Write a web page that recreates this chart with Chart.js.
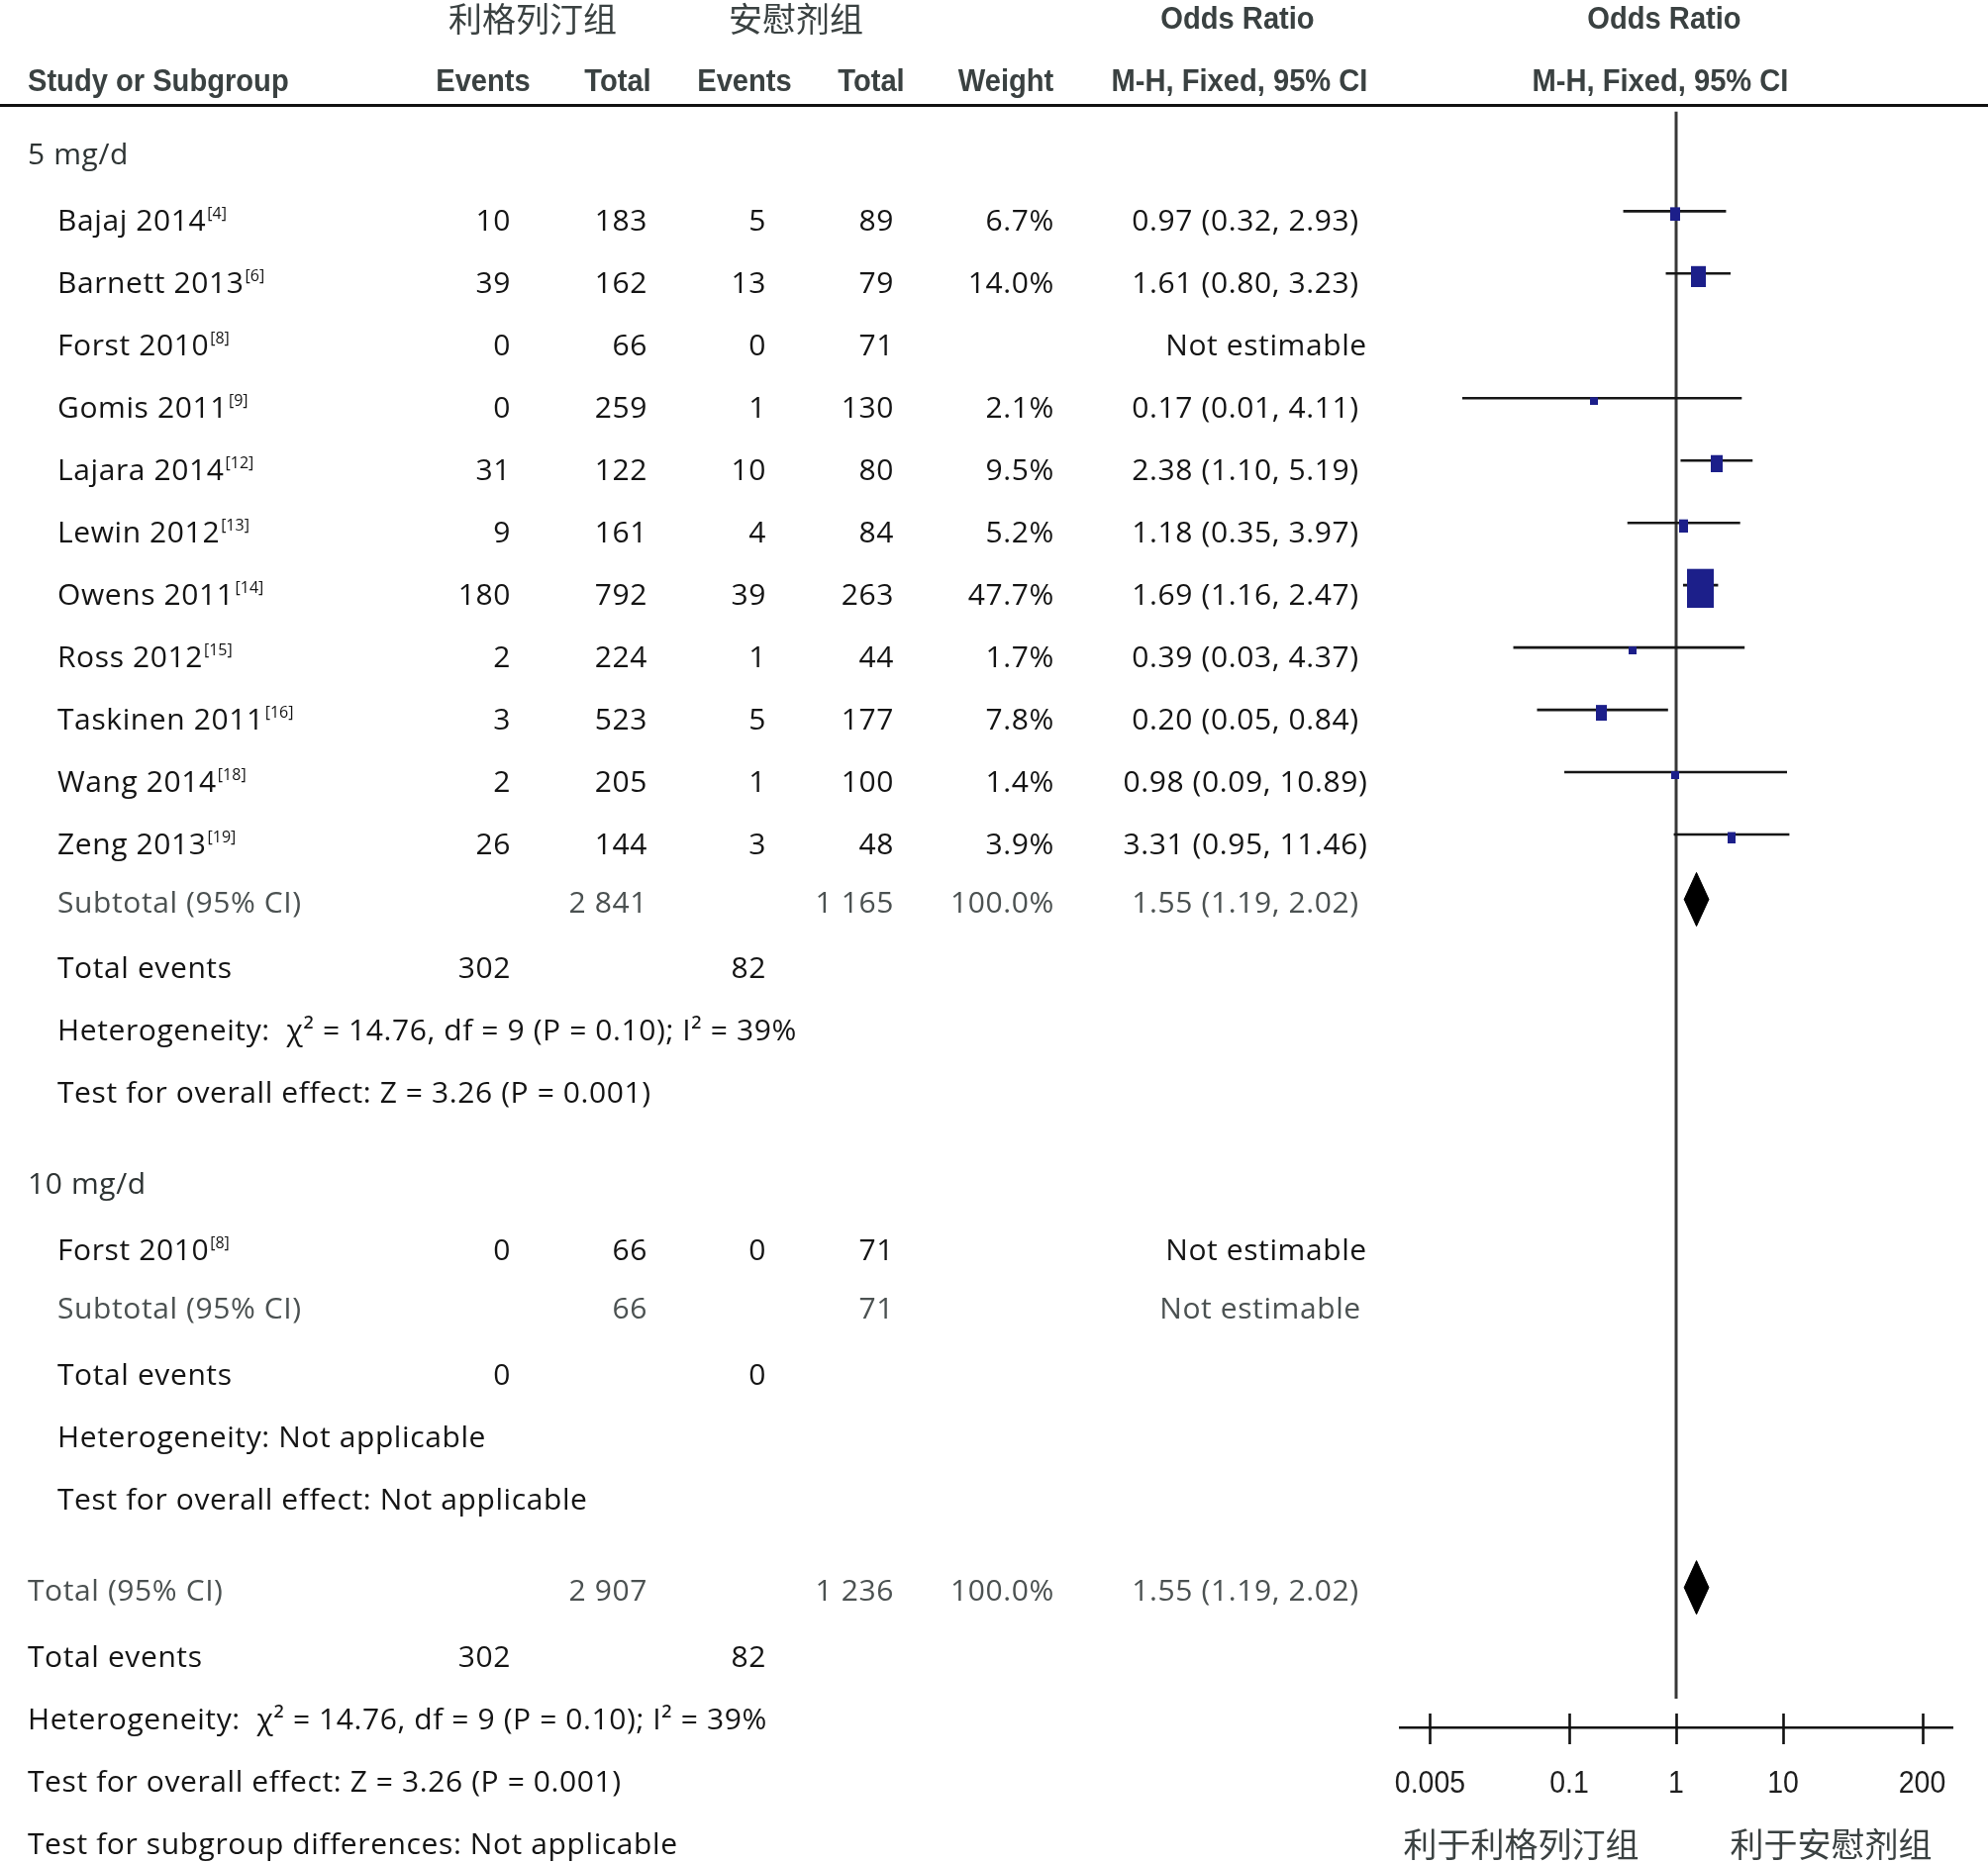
<!DOCTYPE html>
<html><head><meta charset="utf-8">
<script src="https://cdn.jsdelivr.net/npm/chart.js@4.4.1/dist/chart.umd.min.js"></script>
<style>html,body{margin:0;padding:0;background:#fff;overflow:hidden}canvas{display:block}</style>
</head><body>
<canvas id="c" width="2008" height="1882"></canvas>
<script>
// ---------------- DATA ----------------
const groupLabels = ['利格列汀组', '安慰剂组'];
const subgroupNames = ['5 mg/d', '10 mg/d'];

const studies5 = ['Bajaj 2014','Barnett 2013','Forst 2010','Gomis 2011','Lajara 2014','Lewin 2012','Owens 2011','Ross 2012','Taskinen 2011','Wang 2014','Zeng 2013'];
const refs5 = ['[4]','[6]','[8]','[9]','[12]','[13]','[14]','[15]','[16]','[18]','[19]'];
const linaEvents5 = [10, 39, 0, 0, 31, 9, 180, 2, 3, 2, 26];
const linaTotal5  = [183, 162, 66, 259, 122, 161, 792, 224, 523, 205, 144];
const placEvents5 = [5, 13, 0, 1, 10, 4, 39, 1, 5, 1, 3];
const placTotal5  = [89, 79, 71, 130, 80, 84, 263, 44, 177, 100, 48];
const weight5     = [6.7, 14.0, null, 2.1, 9.5, 5.2, 47.7, 1.7, 7.8, 1.4, 3.9];
const or5         = [0.97, 1.61, null, 0.17, 2.38, 1.18, 1.69, 0.39, 0.20, 0.98, 3.31];
const orLow5      = [0.32, 0.80, null, 0.01, 1.10, 0.35, 1.16, 0.03, 0.05, 0.09, 0.95];
const orHigh5     = [2.93, 3.23, null, 4.11, 5.19, 3.97, 2.47, 4.37, 0.84, 10.89, 11.46];

const subTotals5   = [2841, 1165];
const subWeight5   = 100.0;
const subOR5       = [1.55, 1.19, 2.02];
const totalEvents5 = [302, 82];
const notes5 = ['Heterogeneity:  χ² = 14.76, df = 9 (P = 0.10); I² = 39%', 'Test for overall effect: Z = 3.26 (P = 0.001)'];

const studies10 = ['Forst 2010'];
const refs10 = ['[8]'];
const linaEvents10 = [0];
const linaTotal10  = [66];
const placEvents10 = [0];
const placTotal10  = [71];
const subTotals10   = [66, 71];
const totalEvents10 = [0, 0];
const notes10 = ['Heterogeneity: Not applicable', 'Test for overall effect: Not applicable'];

const overallTotals = [2907, 1236];
const overallWeight = 100.0;
const overallOR     = [1.55, 1.19, 2.02];
const overallEvents = [302, 82];
const overallNotes = ['Heterogeneity:  χ² = 14.76, df = 9 (P = 0.10); I² = 39%', 'Test for overall effect: Z = 3.26 (P = 0.001)', 'Test for subgroup differences: Not applicable'];

const xTickValues = [0.005, 0.1, 1, 10, 200];
const xTickLabels = ['0.005', '0.1', '1', '10', '200'];
const favourLabels = ['利于利格列汀组', '利于安慰剂组'];

// ---------------- LAYOUT ----------------
const ROW0 = 142, ROWH = 63.15;         // pixel of row unit 0, pixels per row unit
const AXIS_Y = 1745, CH = 1882, CW = 2008;
const PLOT_L = 1414, PLOT_R = 1972;
const COL = { section: 28, name: 58, e1: 516, t1: 654, e2: 774, t2: 903, w: 1065, orC: 1258, neC: 1279 };
const FONT_BODY = "30px 'Open Sans', 'Noto Sans', sans-serif";
const FONT_SUP = "16px 'Open Sans', 'Noto Sans', sans-serif";
const FONT_HEAD = "bold 32px 'Liberation Sans', Arial, sans-serif";
const FONT_TICK = "32px 'Liberation Sans', Arial, sans-serif";
const FONT_CJK = "34px 'Noto Sans CJK SC', sans-serif";
const C_TEXT = '#141414', C_GRAY = '#4b5151', C_HEAD = '#3a4141';

const fmtN = n => n >= 1000 ? String(Math.floor(n/1000)) + ' ' + String(n % 1000).padStart(3, '0') : String(n);
const fmtOR = (a, b, c) => `${a.toFixed(2)} (${b.toFixed(2)}, ${c.toFixed(2)})`;

// build row list (u = row unit position)
const rows = [];
let cu = 0;
function addRow(gap, r) { cu += gap; r.u = cu; rows.push(r); }
addRow(0, { type: 'section', text: subgroupNames[0] });
studies5.forEach((s, i) => addRow(i === 0 ? 1.06 : 1, {
  type: 'study', name: s, ref: refs5[i], e1: linaEvents5[i], t1: linaTotal5[i], e2: placEvents5[i], t2: placTotal5[i],
  w: weight5[i], or: or5[i], lo: orLow5[i], hi: orHigh5[i] }));
addRow(0.94, { type: 'sub', label: 'Subtotal (95% CI)', left: COL.name, t1: subTotals5[0], t2: subTotals5[1], w: subWeight5, or: subOR5[0], lo: subOR5[1], hi: subOR5[2] });
addRow(1.06, { type: 'events', left: COL.name, e1: totalEvents5[0], e2: totalEvents5[1] });
notes5.forEach(n => addRow(1, { type: 'note', left: COL.name, text: n }));
addRow(1.46, { type: 'section', text: subgroupNames[1] });
studies10.forEach((s, i) => addRow(i === 0 ? 1.06 : 1, {
  type: 'study', name: s, ref: refs10[i], e1: linaEvents10[i], t1: linaTotal10[i], e2: placEvents10[i], t2: placTotal10[i],
  w: null, or: null, lo: null, hi: null }));
addRow(0.94, { type: 'sub', label: 'Subtotal (95% CI)', left: COL.name, t1: subTotals10[0], t2: subTotals10[1], w: null, or: null });
addRow(1.06, { type: 'events', left: COL.name, e1: totalEvents10[0], e2: totalEvents10[1] });
notes10.forEach(n => addRow(1, { type: 'note', left: COL.name, text: n }));
addRow(1.46, { type: 'sub', label: 'Total (95% CI)', left: COL.section, t1: overallTotals[0], t2: overallTotals[1], w: overallWeight, or: overallOR[0], lo: overallOR[1], hi: overallOR[2] });
addRow(1.06, { type: 'events', left: COL.section, e1: overallEvents[0], e2: overallEvents[1] });
overallNotes.forEach(n => addRow(1, { type: 'note', left: COL.section, text: n }));

// ---------------- MARKS ----------------
function makeRect(wt) {
  const h = Math.max(8, 5.6 * Math.sqrt(wt)), w = Math.max(8, 0.71 * h), off = 3;
  const c = document.createElement('canvas');
  c.width = Math.round(w); c.height = Math.round(h) + 2 * off;
  const g = c.getContext('2d');
  g.fillStyle = '#1c1f8a';
  g.fillRect(0, 2 * off, c.width, Math.round(h));
  return c;
}
const datasets = [];
const studyRows = rows.filter(r => r.type === 'study' && r.or != null);
datasets.push({
  type: 'scatter', label: 'OR', order: 0,
  data: studyRows.map(r => ({ x: r.or, y: r.u })),
  pointStyle: studyRows.map(r => makeRect(r.w)),
  pointRadius: 4, showLine: false
});
rows.filter(r => r.type === 'sub' && r.or != null).forEach(r => {
  const c = r.u + 0.1, hh = 0.43;
  datasets.push({
    type: 'line', label: 'diamond', order: 1,
    data: [{ x: r.lo, y: c }, { x: r.or, y: c - hh }, { x: r.hi, y: c }, { x: r.or, y: c + hh }, { x: r.lo, y: c }],
    borderColor: '#000', backgroundColor: '#000', borderWidth: 1, pointRadius: 0, fill: 'shape', tension: 0
  });
});
studyRows.forEach(r => datasets.push({
  type: 'line', label: 'CI', order: 2,
  data: [{ x: r.lo, y: r.u }, { x: r.hi, y: r.u }],
  borderColor: '#161616', borderWidth: 2.6, pointRadius: 0, fill: false
}));
datasets.push({
  type: 'line', label: 'no effect', order: 3,
  data: [{ x: 1, y: (108 - ROW0) / ROWH }, { x: 1, y: (1716 - ROW0) / ROWH }],
  borderColor: '#383838', borderWidth: 3, pointRadius: 0, fill: false
});

// ---------------- TEXT PLUGIN ----------------
function txt(ctx, s, x, y, o) {
  ctx.save();
  ctx.font = o.font || FONT_BODY;
  ctx.fillStyle = o.color || C_TEXT;
  ctx.textAlign = o.align || 'left';
  ctx.textBaseline = o.baseline || 'alphabetic';
  const ls = o.ls !== undefined ? o.ls : ((o.font || FONT_BODY) === FONT_BODY ? '0.6px' : '0px');
  if ('letterSpacing' in ctx) ctx.letterSpacing = ls;
  const w = ctx.measureText(s).width;
  if (o.hScale && o.hScale !== 1) ctx.fillText(s, x, y, w * o.hScale); else ctx.fillText(s, x, y);
  ctx.restore();
  return w * (o.hScale || 1);
}

const tablePlugin = {
  id: 'forestTable',
  afterDraw(chart) {
    const ctx = chart.ctx, ys = chart.scales.y, xs = chart.scales.x;
    const base = u => ys.getPixelForValue(u) + 19.5;

    // headers
    txt(ctx, groupLabels[0], 538, 19, { font: FONT_CJK, color: C_HEAD, align: 'center', baseline: 'middle' });
    txt(ctx, groupLabels[1], 804, 19, { font: FONT_CJK, color: C_HEAD, align: 'center', baseline: 'middle' });
    txt(ctx, 'Odds Ratio', 1250, 29, { font: FONT_HEAD, color: C_HEAD, align: 'center', hScale: 0.91 });
    txt(ctx, 'Odds Ratio', 1681, 29, { font: FONT_HEAD, color: C_HEAD, align: 'center', hScale: 0.91 });
    const h2 = [['Study or Subgroup', 28, 'left'], ['Events', 488, 'center'], ['Total', 624, 'center'], ['Events', 752, 'center'],
                ['Total', 880, 'center'], ['Weight', 1016, 'center'], ['M-H, Fixed, 95% CI', 1252, 'center'], ['M-H, Fixed, 95% CI', 1677, 'center']];
    h2.forEach(([s, x, a]) => txt(ctx, s, x, 92, { font: FONT_HEAD, color: C_HEAD, align: a, hScale: 0.91 }));

    // header rule
    ctx.save(); ctx.strokeStyle = '#111'; ctx.lineWidth = 3;
    ctx.beginPath(); ctx.moveTo(0, 106.5); ctx.lineTo(CW, 106.5); ctx.stroke(); ctx.restore();

    rows.forEach(r => {
      const y = base(r.u);
      if (r.type === 'section') {
        txt(ctx, r.text, COL.section, y, { color: '#2e3434' });
      } else if (r.type === 'study') {
        const w = txt(ctx, r.name, COL.name, y, {});
        txt(ctx, r.ref, COL.name + w + 1, y - 12, { font: FONT_SUP });
        txt(ctx, String(r.e1), COL.e1, y, { align: 'right' });
        txt(ctx, String(r.t1), COL.t1, y, { align: 'right' });
        txt(ctx, String(r.e2), COL.e2, y, { align: 'right' });
        txt(ctx, String(r.t2), COL.t2, y, { align: 'right' });
        if (r.w != null) txt(ctx, r.w.toFixed(1) + '%', COL.w, y, { align: 'right' });
        if (r.or != null) txt(ctx, fmtOR(r.or, r.lo, r.hi), COL.orC, y, { align: 'center' });
        else txt(ctx, 'Not estimable', COL.neC, y, { align: 'center' });
      } else if (r.type === 'sub') {
        txt(ctx, r.label, r.left, y, { color: C_GRAY });
        txt(ctx, fmtN(r.t1), COL.t1, y, { align: 'right', color: C_GRAY });
        txt(ctx, fmtN(r.t2), COL.t2, y, { align: 'right', color: C_GRAY });
        if (r.w != null) txt(ctx, r.w.toFixed(1) + '%', COL.w, y, { align: 'right', color: C_GRAY });
        if (r.or != null) txt(ctx, fmtOR(r.or, r.lo, r.hi), COL.orC, y, { align: 'center', color: C_GRAY });
        else txt(ctx, 'Not estimable', COL.neC - 6, y, { align: 'center', color: C_GRAY });
      } else if (r.type === 'events') {
        txt(ctx, 'Total events', r.left, y, {});
        txt(ctx, String(r.e1), COL.e1, y, { align: 'right' });
        txt(ctx, String(r.e2), COL.e2, y, { align: 'right' });
      } else if (r.type === 'note') {
        txt(ctx, r.text, r.left, y, {});
      }
    });

    // crossing tick marks and tick labels on the OR axis
    ctx.save(); ctx.strokeStyle = '#111'; ctx.lineWidth = 2.6;
    xs.ticks.forEach(t => {
      const px = Math.round(xs.getPixelForValue(t.value)) + 0.5;
      ctx.beginPath(); ctx.moveTo(px, xs.top - 14); ctx.lineTo(px, xs.top + 17); ctx.stroke();
    });
    ctx.restore();
    xs.ticks.forEach(t => {
      const i = xTickValues.indexOf(t.value);
      if (i < 0) return;
      txt(ctx, xTickLabels[i], xs.getPixelForValue(t.value), xs.top + 66, { font: FONT_TICK, color: '#1e1e1e', align: 'center', hScale: 0.89 });
    });

    // favour labels
    txt(ctx, favourLabels[0], xs.getPixelForValue(Math.pow(10, -1.45)), 1863, { font: FONT_CJK, color: C_HEAD, align: 'center', baseline: 'middle' });
    txt(ctx, favourLabels[1], xs.getPixelForValue(Math.pow(10, 1.45)), 1863, { font: FONT_CJK, color: C_HEAD, align: 'center', baseline: 'middle' });
  }
};

// ---------------- CHART ----------------
new Chart(document.getElementById('c'), {
  type: 'line',
  data: { datasets },
  options: {
    responsive: false, animation: false, devicePixelRatio: 1, events: [],
    layout: { padding: { left: PLOT_L, right: CW - PLOT_R, top: 0, bottom: 0 } },
    plugins: { legend: { display: false }, tooltip: { enabled: false }, title: { display: false } },
    scales: {
      x: {
        type: 'logarithmic', position: 'bottom', bounds: 'data',
        min: Math.pow(10, -(1693 - PLOT_L) / 108), max: Math.pow(10, (PLOT_R - 1693) / 108),
        afterBuildTicks: s => { s.ticks = xTickValues.map(v => ({ value: v })); },
        afterFit: s => { s.height = CH - AXIS_Y; },
        grid: { display: false, drawTicks: false },
        border: { display: true, color: '#111', width: 2.6 },
        ticks: {
          display: false, autoSkip: false, maxRotation: 0, minRotation: 0,
          callback: v => { const i = xTickValues.indexOf(v); return i >= 0 ? xTickLabels[i] : ''; }
        }
      },
      y: {
        type: 'linear', display: false, reverse: true, bounds: 'data',
        min: (0 - ROW0) / ROWH, max: (AXIS_Y - ROW0) / ROWH
      }
    }
  },
  plugins: [tablePlugin]
});
</script>
</body></html>
